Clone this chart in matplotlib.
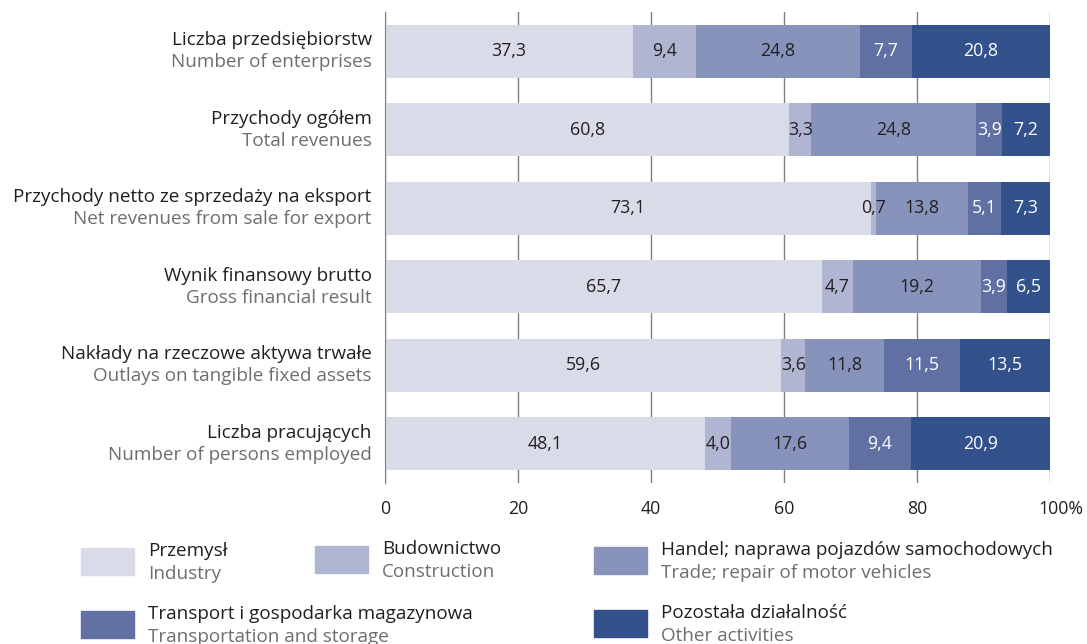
import matplotlib
matplotlib.use("Agg")
import matplotlib.pyplot as plt
import matplotlib.transforms as transforms
from matplotlib.patches import Rectangle
import numpy as np

plt.rcParams['font.family'] = ['Open Sans', 'DejaVu Sans']

rows_pl = ['Liczba przedsiębiorstw', 'Przychody ogółem',
           'Przychody netto ze sprzedaży na eksport', 'Wynik finansowy brutto',
           'Nakłady na rzeczowe aktywa trwałe', 'Liczba pracujących']
rows_en = ['Number of enterprises', 'Total revenues',
           'Net revenues from sale for export', 'Gross financial result',
           'Outlays on tangible fixed assets', 'Number of persons employed']

sectors_pl = ['Przemysł', 'Budownictwo', 'Handel; naprawa pojazdów samochodowych',
              'Transport i gospodarka magazynowa', 'Pozostała działalność']
sectors_en = ['Industry', 'Construction', 'Trade; repair of motor vehicles',
              'Transportation and storage', 'Other activities']

industry = [37.3, 60.8, 73.1, 65.7, 59.6, 48.1]
construction = [9.4, 3.3, 0.7, 4.7, 3.6, 4.0]
trade = [24.8, 24.8, 13.8, 19.2, 11.8, 17.6]
transport = [7.7, 3.9, 5.1, 3.9, 11.5, 9.4]
other = [20.8, 7.2, 7.3, 6.5, 13.5, 20.9]

colors = ['#d9dbe8', '#b0b5d1', '#8893bb', '#6070a2', '#33528c']
text_colors = ['#231f20', '#231f20', '#231f20', 'white', 'white']

ticks = [0, 20, 40, 60, 80, 100]
tick_labels = ['0', '20', '40', '60', '80', '100%']

FS = 13.6

fig = plt.figure(figsize=(10.87, 6.44), dpi=100)
ax = fig.add_axes([385 / 1087, 1 - 483 / 644, 665 / 1087, 471 / 644])

y = np.arange(len(rows_pl))
left = np.zeros(len(rows_pl))
for vals, c, tc in zip([industry, construction, trade, transport, other], colors, text_colors):
    vals = np.array(vals)
    ax.barh(y, vals, left=left, height=0.675, color=c, zorder=2)
    for yi, l, v in zip(y, left, vals):
        ax.text(l + v / 2, yi, f'{v:.1f}'.replace('.', ','), ha='center', va='center',
                color=tc, fontsize=12.8, zorder=3)
    left += vals

ax.set_xlim(0, 100)
ax.set_ylim(5.5, -0.5)
ax.set_xticks(ticks)
ax.set_xticklabels(tick_labels, fontsize=12.8, color='#231f20')
ax.tick_params(axis='x', length=0, pad=12)
# the "%" hangs past the 100 tick
last = ax.get_xticklabels()[-1]
last.set_transform(last.get_transform() +
                   transforms.ScaledTranslation(0.11, 0, fig.dpi_scale_trans))
ax.set_yticks([])
for s in ['top', 'right', 'bottom']:
    ax.spines[s].set_visible(False)
ax.spines['left'].set_color('#808080')
ax.grid(axis='x', color='#808080', linewidth=1, zorder=0)
ax.set_axisbelow(True)

for yi, pl, en in zip(y, rows_pl, rows_en):
    ax.text(-0.02, yi - 0.14, pl, transform=ax.get_yaxis_transform(), ha='right',
            va='center', fontsize=FS, color='#231f20')
    ax.text(-0.02, yi + 0.14, en, transform=ax.get_yaxis_transform(), ha='right',
            va='center', fontsize=FS, color='#6d6e71')

# legend (square top-left corners in pixels)
leg_pos = [(81, 548), (315, 546), (594, 547), (81, 611), (594, 610)]
W, H = 1087, 644
for (px, py), c, pl, en in zip(leg_pos, colors, sectors_pl, sectors_en):
    fig.add_artist(Rectangle((px / W, 1 - (py + 27) / H), 53 / W, 27 / H,
                             transform=fig.transFigure, color=c))
    fig.text((px + 67) / W, 1 - (py + 3) / H, pl, ha='left', va='center',
             fontsize=FS, color='#231f20')
    fig.text((px + 67) / W, 1 - (py + 26) / H, en, ha='left', va='center',
             fontsize=FS, color='#6d6e71')

fig.savefig('out.png', dpi=100)
